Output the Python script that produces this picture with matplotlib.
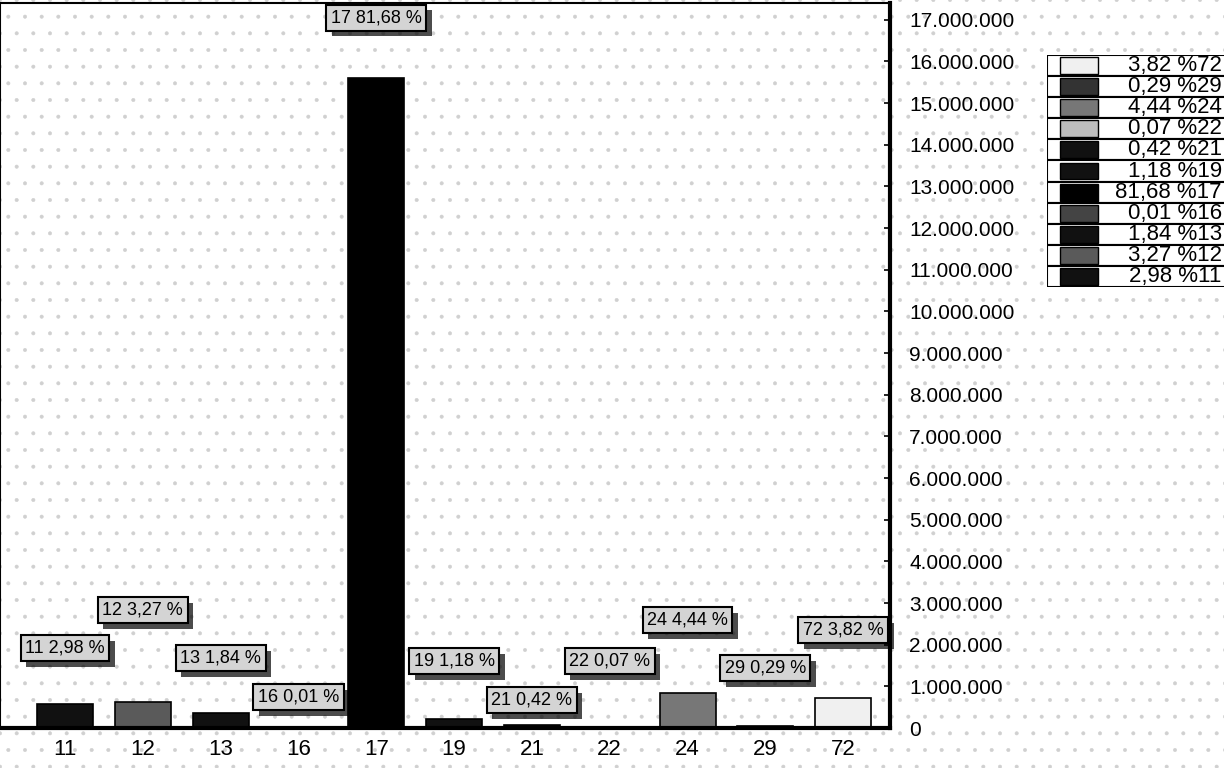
import matplotlib.pyplot as plt
import matplotlib.patheffects as pe
from matplotlib.patches import Rectangle
from matplotlib.ticker import FuncFormatter

plt.rcParams['font.family'] = ['Liberation Sans Narrow', 'Liberation Sans', 'DejaVu Sans']

categories = ['11', '12', '13', '16', '17', '19', '21', '22', '24', '29', '72']
values = [570000, 625000, 352000, 2000, 15600000, 225000, 80000, 13000, 848000, 55000, 730000]
percents = ['2,98', '3,27', '1,84', '0,01', '81,68', '1,18', '0,42', '0,07', '4,44', '0,29', '3,82']
bar_colors = ['#111111', '#5a5a5a', '#111111', '#444444', '#000000', '#111111',
              '#111111', '#bdbdbd', '#777777', '#333333', '#f0f0f0']
# label heights (placement of the staggered value boxes)
label_y = [1.92e6, 2.83e6, 1.68e6, 0.74e6, 17.05e6, 1.61e6, 0.67e6, 1.61e6, 2.59e6, 1.44e6, 2.35e6]

plt.rcParams['hatch.linewidth'] = 0.4
fig = plt.figure(figsize=(12.24, 7.68), dpi=100)

# sparse dotted background like the scan
bg = Rectangle((0, 0), 1, 1, transform=fig.transFigure, facecolor='white',
               edgecolor='#d0d0d0', hatch='.', linewidth=0, zorder=-10)
fig.patches.append(bg)

ax = fig.add_axes([0.0, 0.052, 0.727, 0.944])
ax.patch.set_alpha(0)
x = list(range(len(categories)))
ax.bar(x, values, width=0.72, color=bar_colors, edgecolor='black', linewidth=1.2)
ax.set_xlim(-0.835, 10.6)
ax.set_ylim(0, 17.4e6)

for i in x:
    t = ax.text(i, label_y[i], f"{categories[i]} {percents[i]} %", ha='center', va='center',
                fontsize=13, color='black',
                bbox=dict(boxstyle='square,pad=0.25', facecolor='#d4d4d4', edgecolor='black', linewidth=1.5))
    t.get_bbox_patch().set_path_effects([pe.SimplePatchShadow(offset=(4, -4), shadow_rgbFace='black', alpha=0.7),
                                         pe.Normal()])

ax.set_xticks(x)
ax.set_xticklabels(categories, fontsize=16)
ax.tick_params(axis='x', length=0, pad=8)
ax.yaxis.tick_right()
ax.set_yticks([i * 1e6 for i in range(18)])
ax.yaxis.set_major_formatter(FuncFormatter(lambda v, p: f"{int(v):,}".replace(',', '.')))
ax.tick_params(axis='y', direction='in', length=4, width=1.2, labelsize=15, pad=14)
for s in ax.spines.values():
    s.set_linewidth(1.5)
ax.spines['bottom'].set_linewidth(3)
ax.spines['right'].set_linewidth(3)

# legend table
lax = fig.add_axes([1047 / 1224, (768 - 287) / 768, 190 / 1224, 232 / 768])
lax.set_xlim(0, 1)
lax.set_ylim(0, len(categories))
lax.axis('off')
for row, i in enumerate(reversed(x)):
    y0 = len(categories) - 1 - row
    lax.add_patch(Rectangle((0, y0), 1, 1, facecolor='white', edgecolor='black', linewidth=1.5))
    lax.add_patch(Rectangle((0.07, y0 + 0.1), 0.2, 0.8, facecolor=bar_colors[i],
                            edgecolor='black', linewidth=1))
    lax.text(0.92, y0 + 0.5, f"{percents[i]} %{categories[i]}", ha='right', va='center', fontsize=16)

fig.savefig('out.png', dpi=100)
